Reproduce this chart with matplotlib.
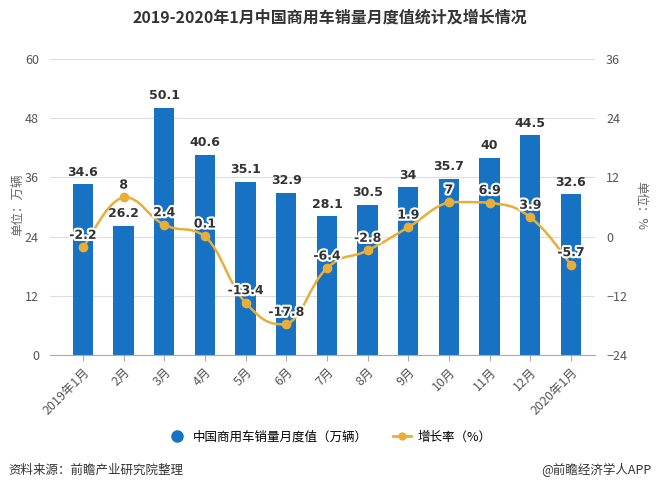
import matplotlib
matplotlib.use("Agg")
import matplotlib.pyplot as plt
from matplotlib.path import Path
from matplotlib.patches import PathPatch
import matplotlib.patheffects as pe
from matplotlib.lines import Line2D
import numpy as np

plt.rcParams['font.family'] = ['Noto Sans CJK SC', 'DejaVu Sans']

categories = ["2019年1月", "2月", "3月", "4月", "5月", "6月", "7月", "8月", "9月", "10月", "11月", "12月", "2020年1月"]
sales = [34.6, 26.2, 50.1, 40.6, 35.1, 32.9, 28.1, 30.5, 34, 35.7, 40, 44.5, 32.6]
growth = [-2.2, 8, 2.4, 0.1, -13.4, -17.8, -6.4, -2.8, 1.9, 7, 6.9, 3.9, -5.7]
sales_labels = ["34.6", "26.2", "50.1", "40.6", "35.1", "32.9", "28.1", "30.5", "34", "35.7", "40", "44.5", "32.6"]
growth_labels = ["-2.2", "8", "2.4", "0.1", "-13.4", "-17.8", "-6.4", "-2.8", "1.9", "7", "6.9", "3.9", "-5.7"]
left_ticks = [0, 12, 24, 36, 48, 60]
right_ticks = [-24, -12, 0, 12, 24, 36]

bar_color = "#1772C4"
line_color = "#E8AE38"
text_dark = "#333333"
tick_color = "#555555"

fig = plt.figure(figsize=(6.59, 4.92), dpi=100)
ax = fig.add_axes([50/659, 1-355/492, 545/659, 296/492])
ax2 = ax.twinx()

x = np.arange(len(categories))
ax.bar(x, sales, width=0.5, color=bar_color, zorder=2)
ax.set_ylim(0, 60)
ax.set_yticks(left_ticks)
ax.set_xlim(-0.81, 12.59)
ax.grid(axis='y', color='#dddddd', linewidth=0.8, zorder=0)
ax.set_axisbelow(True)
for s in ['top', 'right', 'left']:
    ax.spines[s].set_visible(False)
ax.spines['bottom'].set_color('#aaaaaa')
for s in ax2.spines.values():
    s.set_visible(False)
ax.tick_params(axis='y', length=0, labelsize=9, labelcolor=tick_color, pad=8)
ax.tick_params(axis='x', length=4, color='#aaaaaa', labelsize=9, labelcolor=tick_color)
ax.set_xticks(x)
ax.set_xticklabels(categories, rotation=45, ha='right', rotation_mode='anchor')

for xi, v, lab in zip(x, sales, sales_labels):
    ax.annotate(lab, (xi, v), xytext=(0, 4), textcoords='offset points',
                ha='center', va='bottom', fontsize=9, fontweight='bold', color=text_dark,
                family=['DejaVu Sans'], zorder=5)

ax2.set_ylim(-24, 36)
ax2.set_yticks(right_ticks)
ax2.tick_params(axis='y', length=0, labelsize=9, labelcolor=tick_color, pad=8)

# smooth curve through the data points (cubic bezier, control points clamped per segment)
pts = np.column_stack([x, growth]).astype(float)
n = len(pts)
s = 0.22
verts = [tuple(pts[0])]
codes = [Path.MOVETO]
for i in range(n - 1):
    p0 = pts[i - 1] if i > 0 else pts[i]
    p1 = pts[i]
    p2 = pts[i + 1]
    p3 = pts[i + 2] if i + 2 < n else pts[i + 1]
    c1 = p1 + (p2 - p0) * s
    c2 = p2 - (p3 - p1) * s
    lo, hi = min(p1[1], p2[1]), max(p1[1], p2[1])
    c1[1] = np.clip(c1[1], lo, hi)
    c2[1] = np.clip(c2[1], lo, hi)
    verts += [tuple(c1), tuple(c2), tuple(p2)]
    codes += [Path.CURVE4] * 3
path = Path(verts, codes)
ax2.add_patch(PathPatch(path, facecolor='none', edgecolor=line_color, linewidth=1.8, zorder=3))
ax2.plot(x, growth, linestyle='none', marker='o', markersize=6, color=line_color, zorder=4)

for xi, v, lab in zip(x, growth, growth_labels):
    t = ax2.annotate(lab, (xi, v), xytext=(0, 4), textcoords='offset points',
                     ha='center', va='bottom', fontsize=9, fontweight='bold', color=text_dark,
                     family=['DejaVu Sans'], zorder=6)
    t.set_path_effects([pe.withStroke(linewidth=3, foreground='white')])

fig.text(0.5, 1-18/492, "2019-2020年1月中国商用车销量月度值统计及增长情况", ha='center', va='center',
         fontsize=11.5, fontweight='bold', color=text_dark)
fig.text(18/659, 1-205/492, "单位：万辆", rotation=90, ha='center', va='center', fontsize=9, color='#666666')
fig.text(641/659, 1-205/492, "单位：%", rotation=270, ha='center', va='center', fontsize=9, color='#666666')

handles = [Line2D([], [], linestyle='none', marker='o', markersize=8, color=bar_color),
           Line2D([], [], color=line_color, linewidth=2, marker='o', markersize=5)]
fig.legend(handles, ["中国商用车销量月度值（万辆）", "增长率（%）"], loc='center',
           bbox_to_anchor=(0.5, 1-437/492), ncol=2, frameon=False, fontsize=9,
           handlelength=1.5, columnspacing=2.0, handletextpad=0.5)

fig.text(8/659, 1-470/492, "资料来源：前瞻产业研究院整理", ha='left', va='center', fontsize=9, color=text_dark)
fig.text(651/659, 1-470/492, "@前瞻经济学人APP", ha='right', va='center', fontsize=9, color=text_dark)

fig.savefig("out.png", dpi=100)
